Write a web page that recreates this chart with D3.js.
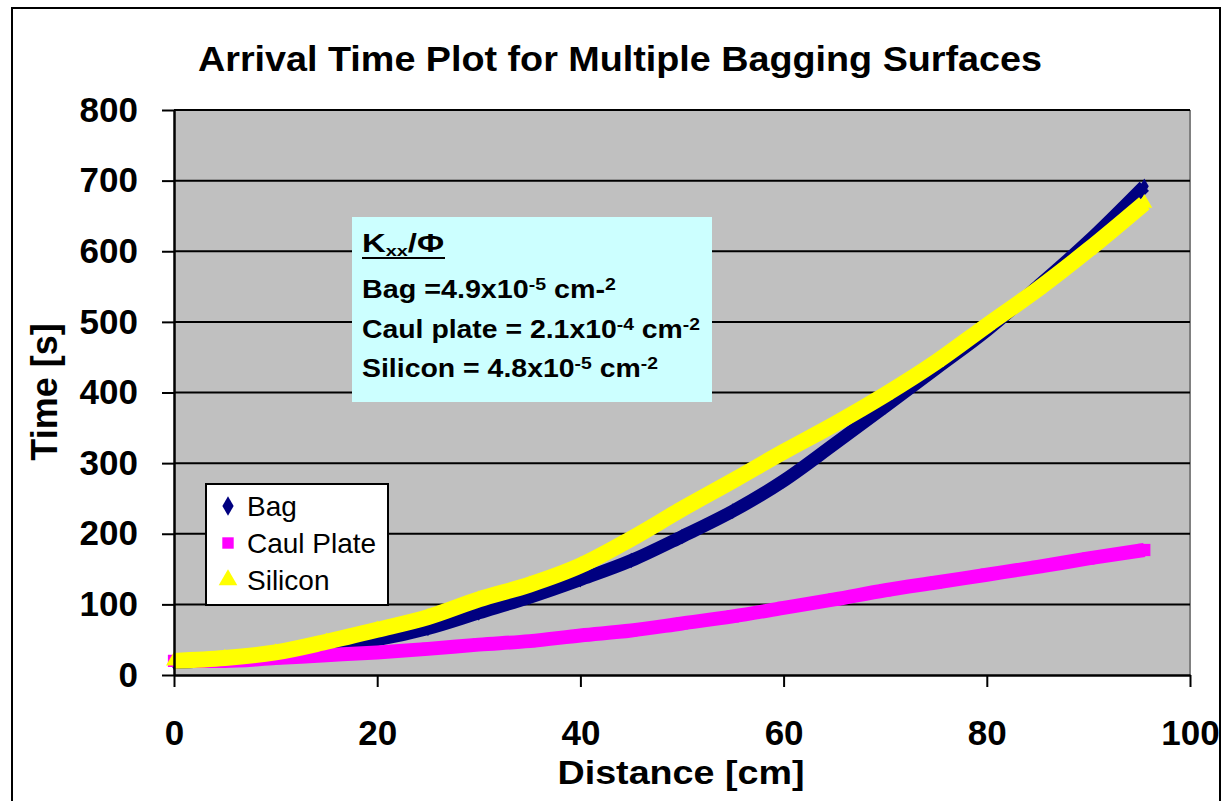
<!DOCTYPE html>
<html>
<head>
<meta charset="utf-8">
<script src="https://cdn.jsdelivr.net/npm/d3@7"></script>
<style>
  body { margin: 0; background: #fff; }
  svg { display: block; font-family: "Liberation Sans", Arial, sans-serif; }
</style>
</head>
<body>
<div id="chart"></div>
<script>
// values
const distance = [0, 5, 10, 15, 20, 25, 30, 35, 40, 45, 50, 55, 60, 65, 70, 75, 80, 85, 90, 95.5];
const bag      = [18, 22, 30, 40, 50, 66, 88, 110, 135, 162, 196, 232, 275, 327, 380, 434, 488, 550, 614, 692];
const caul     = [20, 20, 24, 28, 32, 37, 43, 48, 56, 63, 73, 83, 95, 107, 120, 131, 142, 153, 165, 177];
const silicon  = [20, 24, 32, 47, 64, 82, 107, 128, 155, 193, 235, 275, 316, 355, 397, 443, 495, 546, 602, 668];
const xTicks = [0, 20, 40, 60, 80, 100];
const yTicks = [0, 100, 200, 300, 400, 500, 600, 700, 800];
const seriesNames = ['Bag', 'Caul Plate', 'Silicon'];

const width = 1226, height = 801;
const plot = { left: 174, right: 1190, top: 110, bottom: 675 };

const svg = d3.select('#chart')
  .append('svg')
  .attr('width', width)
  .attr('height', height);

// outer chart border
svg.append('rect')
  .attr('x', 12).attr('y', 8)
  .attr('width', 1208).attr('height', 805)
  .attr('fill', '#fff')
  .attr('stroke', '#000')
  .attr('stroke-width', 2);

const x = d3.scaleLinear().domain([0, 100]).range([plot.left, plot.right]);
const y = d3.scaleLinear().domain([0, 800]).range([plot.bottom, plot.top]);

// plot area
svg.append('rect')
  .attr('x', plot.left).attr('y', plot.top)
  .attr('width', plot.right - plot.left)
  .attr('height', plot.bottom - plot.top)
  .attr('fill', '#c0c0c0');

svg.append('line')
  .attr('x1', plot.right).attr('x2', plot.right)
  .attr('y1', plot.top).attr('y2', plot.bottom)
  .attr('stroke', '#808080').attr('stroke-width', 2);

// gridlines
svg.append('g')
  .selectAll('line')
  .data(yTicks.filter(d => d > 0))
  .enter().append('line')
  .attr('x1', plot.left).attr('x2', plot.right)
  .attr('y1', d => y(d)).attr('y2', d => y(d))
  .attr('stroke', '#000').attr('stroke-width', 2);

// series: the dense markers form a thick band
const series = [
  { name: seriesNames[0], values: bag, color: '#000080', w: 13, shape: d3.symbolDiamond, size: 70, legendSize: 110 },
  { name: seriesNames[1], values: caul, color: '#ff00ff', w: 14, shape: d3.symbolSquare, size: 150, legendSize: 130 },
  { name: seriesNames[2], values: silicon, color: '#ffff00', w: 16, shape: d3.symbolTriangle, size: 110, legendSize: 150 }
];

const line = d3.line()
  .x(d => x(d[0]))
  .y(d => y(d[1]))
  .curve(d3.curveMonotoneX);

series.forEach(s => {
  const pts = distance.map((d, i) => [d, s.values[i]]);
  const g = svg.append('g');
  g.append('path')
    .datum(pts)
    .attr('d', line)
    .attr('fill', 'none')
    .attr('stroke', s.color)
    .attr('stroke-width', s.w)
    .attr('stroke-linejoin', 'round');
  g.selectAll('path.mark')
    .data(pts)
    .enter().append('path')
    .attr('class', 'mark')
    .attr('d', d3.symbol().type(s.shape).size(s.size))
    .attr('transform', d => `translate(${x(d[0])},${y(d[1])})`)
    .attr('fill', s.color);
});

// axes
const yAxis = d3.axisLeft(y)
  .tickValues(yTicks)
  .tickSize(12)
  .tickSizeOuter(0)
  .tickPadding(24);
const xAxis = d3.axisBottom(x)
  .tickValues(xTicks)
  .tickSize(12)
  .tickSizeOuter(0)
  .tickPadding(33);

const yAxisGroup = svg.append('g')
  .attr('transform', `translate(${plot.left},0)`)
  .call(yAxis);
const xAxisGroup = svg.append('g')
  .attr('transform', `translate(0,${plot.bottom})`)
  .call(xAxis);

[xAxisGroup, yAxisGroup].forEach(g => {
  g.select('.domain').attr('stroke', '#000').attr('stroke-width', 2.5);
  g.selectAll('.tick line').attr('stroke', '#000').attr('stroke-width', 2);
  g.selectAll('.tick text')
    .attr('fill', '#000')
    .attr('font-size', 35)
    .attr('font-weight', 'bold')
    .attr('font-family', '"Liberation Sans", Arial, sans-serif');
});

// title and axis titles
svg.append('text')
  .attr('x', 620).attr('y', 71)
  .attr('text-anchor', 'middle')
  .attr('font-size', 35).attr('font-weight', 'bold')
  .attr('textLength', 844).attr('lengthAdjust', 'spacingAndGlyphs')
  .text('Arrival Time Plot for Multiple Bagging Surfaces');

svg.append('text')
  .attr('x', 681).attr('y', 784)
  .attr('text-anchor', 'middle')
  .attr('font-size', 34).attr('font-weight', 'bold')
  .attr('textLength', 247).attr('lengthAdjust', 'spacingAndGlyphs')
  .text('Distance [cm]');

svg.append('text')
  .attr('transform', 'translate(57,392) rotate(-90)')
  .attr('text-anchor', 'middle')
  .attr('font-size', 36).attr('font-weight', 'bold')
  .text('Time [s]');

// annotation box
const note = svg.append('g');
note.append('rect')
  .attr('x', 352).attr('y', 217)
  .attr('width', 360).attr('height', 185)
  .attr('fill', '#ccffff');

const noteText = (yy, parts, len) => {
  const t = note.append('text')
    .attr('x', 362).attr('y', yy)
    .attr('font-size', 25).attr('font-weight', 'bold');
  parts.forEach(p => {
    const ts = t.append('tspan').text(p.t);
    if (p.sup) ts.attr('baseline-shift', '45%').attr('font-size', 17);
    if (p.sub) ts.attr('baseline-shift', '-25%').attr('font-size', 15);
  });
  if (len) t.attr('textLength', len).attr('lengthAdjust', 'spacingAndGlyphs');
  return t;
};

noteText(252, [{ t: 'K' }, { t: 'xx', sub: true }, { t: '/Φ' }], 82);
note.append('line')
  .attr('x1', 362).attr('x2', 445)
  .attr('y1', 258).attr('y2', 258)
  .attr('stroke', '#000').attr('stroke-width', 2);
noteText(298, [{ t: 'Bag =4.9x10' }, { t: '-5', sup: true }, { t: ' cm-' }, { t: '2', sup: true }], 254);
noteText(338, [{ t: 'Caul plate = 2.1x10' }, { t: '-4', sup: true }, { t: ' cm' }, { t: '-2', sup: true }], 338);
noteText(377, [{ t: 'Silicon = 4.8x10' }, { t: '-5', sup: true }, { t: ' cm' }, { t: '-2', sup: true }], 296);

// legend
const legend = svg.append('g');
legend.append('rect')
  .attr('x', 206).attr('y', 484)
  .attr('width', 182).attr('height', 121)
  .attr('fill', '#fff')
  .attr('stroke', '#000').attr('stroke-width', 2);

const legendRows = legend.selectAll('g.row')
  .data(series)
  .enter().append('g')
  .attr('class', 'row')
  .attr('transform', (d, i) => `translate(228,${506 + i * 37})`);

legendRows.append('path')
  .attr('d', d => d3.symbol().type(d.shape).size(d.legendSize)())
  .attr('fill', d => d.color);

legendRows.append('text')
  .attr('x', 19).attr('y', 10)
  .attr('font-size', 28)
  .attr('fill', '#000')
  .text(d => d.name);
</script>
</body>
</html>
